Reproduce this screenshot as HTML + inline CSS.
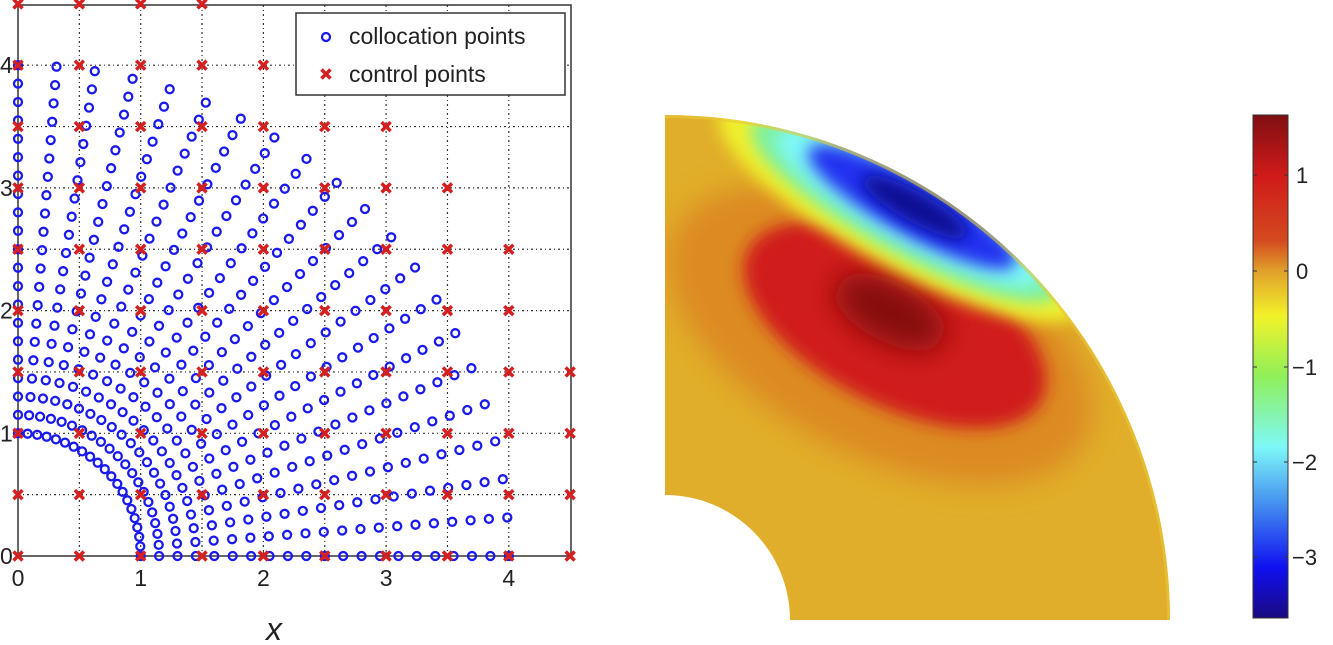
<!DOCTYPE html>
<html><head><meta charset="utf-8"><style>
html,body{margin:0;padding:0;background:#fff;width:1333px;height:645px;overflow:hidden}
svg{position:absolute;left:0;top:0}
text{font-family:"Liberation Sans",sans-serif;fill:#222}
</style></head><body>
<svg id="s" width="1333" height="645" viewBox="0 0 1333 645">
<defs>
<filter id="b1" x="-50%" y="-50%" width="200%" height="200%"><feGaussianBlur stdDeviation="14"/></filter>
<filter id="b2" x="-50%" y="-50%" width="200%" height="200%"><feGaussianBlur stdDeviation="8"/></filter>
<clipPath id="ann"><path d="M665,115 A505,505 0 0 1 1170,620 L790,620 A125,125 0 0 0 665,495 Z"/></clipPath>
<linearGradient id="jet" x1="0" y1="0" x2="0" y2="1">
<stop offset="0" stop-color="#7f0f12"/>
<stop offset="0.12" stop-color="#d01a1a"/>
<stop offset="0.25" stop-color="#d44a1f"/>
<stop offset="0.31" stop-color="#e0a02a"/>
<stop offset="0.40" stop-color="#f2f22a"/>
<stop offset="0.52" stop-color="#8ff05a"/>
<stop offset="0.66" stop-color="#7ef8f8"/>
<stop offset="0.76" stop-color="#4a9cf0"/>
<stop offset="0.90" stop-color="#1010f0"/>
<stop offset="1" stop-color="#1a0a80"/>
</linearGradient>
</defs>
<g id="left"></g>
<g clip-path="url(#ann)">
<rect x="660" y="110" width="520" height="520" fill="#e0ae2a"/>
<ellipse cx="880" cy="335" rx="230" ry="120" transform="rotate(27 880 335)" fill="#dc8a24" filter="url(#b1)"/>
<ellipse cx="895" cy="325" rx="165" ry="80" transform="rotate(27 895 325)" fill="#d01a1a" filter="url(#b2)"/>
<ellipse cx="890" cy="312" rx="60" ry="30" transform="rotate(27 890 312)" fill="#85100f" filter="url(#b1)"/>
<ellipse cx="900" cy="212" rx="205" ry="55" transform="rotate(29 900 212)" fill="#f0f02a" filter="url(#b2)"/>
<ellipse cx="905" cy="210" rx="175" ry="43" transform="rotate(29 905 210)" fill="#7ef0a0" filter="url(#b2)"/>
<ellipse cx="908" cy="208" rx="150" ry="35" transform="rotate(29 908 208)" fill="#7ef8f8" filter="url(#b2)"/>
<ellipse cx="912" cy="207" rx="118" ry="28" transform="rotate(29 912 207)" fill="#2030f0" filter="url(#b2)"/>
<ellipse cx="915" cy="207" rx="60" ry="15" transform="rotate(29 915 207)" fill="#0a0a90" filter="url(#b2)"/>
<path d="M665,115 A505,505 0 0 1 1170,620" fill="none" stroke="#e8c83a" stroke-width="6" opacity="0.6"/>
</g>
<rect x="1253" y="115" width="35" height="503" fill="url(#jet)" stroke="#333" stroke-width="1"/>
<g stroke="#333" stroke-width="1">
<line x1="1253" y1="175" x2="1257" y2="175"/><line x1="1284" y1="175" x2="1288" y2="175"/>
<line x1="1253" y1="271" x2="1257" y2="271"/><line x1="1284" y1="271" x2="1288" y2="271"/>
<line x1="1253" y1="367" x2="1257" y2="367"/><line x1="1284" y1="367" x2="1288" y2="367"/>
<line x1="1253" y1="462" x2="1257" y2="462"/><line x1="1284" y1="462" x2="1288" y2="462"/>
<line x1="1253" y1="557" x2="1257" y2="557"/><line x1="1284" y1="557" x2="1288" y2="557"/>
</g>
<g font-size="22">
<text x="1296" y="183">1</text>
<text x="1296" y="279">0</text>
<text x="1292" y="375">−1</text>
<text x="1292" y="470">−2</text>
<text x="1292" y="565">−3</text>
</g>
</svg>
<script>
var g=document.getElementById('left'),h='';
var ox=18,oy=556,s=122.7;
function X(v){return ox+v*s}function Y(v){return oy-v*s}
for(var k=1;k<=8;k++){var v=k*0.5;
h+='<line x1="'+X(v)+'" y1="5" x2="'+X(v)+'" y2="556" stroke="#333" stroke-width="1.2" stroke-dasharray="2 3 1 3"/>';
h+='<line x1="18" y1="'+Y(v)+'" x2="571" y2="'+Y(v)+'" stroke="#333" stroke-width="1.2" stroke-dasharray="2 3 1 3"/>';}
h+='<rect x="18" y="5" width="553" height="551" fill="none" stroke="#333" stroke-width="1.5"/>';
for(var k=0;k<=4;k++){h+='<line x1="'+X(k)+'" y1="556" x2="'+X(k)+'" y2="550" stroke="#333"/><line x1="18" y1="'+Y(k)+'" x2="24" y2="'+Y(k)+'" stroke="#333"/>';
h+='<text x="'+X(k)+'" y="586" font-size="23" text-anchor="middle">'+k+'</text>';
h+='<text x="0" y="'+(Y(k)+8)+'" font-size="23">'+k+'</text>';}
for(var i=0;i<=20;i++)for(var j=0;j<=20;j++){var r=1+3*i/20,t=Math.PI/2*j/20;
h+='<circle cx="'+X(r*Math.cos(t)).toFixed(1)+'" cy="'+Y(r*Math.sin(t)).toFixed(1)+'" r="4" fill="none" stroke="#1a1aee" stroke-width="2.3"/>';}
var lim={0:4.5,0.5:4.5,1:4.5,1.5:4.5,2:4,2.5:4,3:3.5,3.5:3,4:2,4.5:1.5};
function cross(x,y){return '<path d="M'+(x-4.5)+','+(y-4.5)+'L'+(x+4.5)+','+(y+4.5)+'M'+(x-4.5)+','+(y+4.5)+'L'+(x+4.5)+','+(y-4.5)+'" stroke="#d42020" stroke-width="3.5"/>';}
for(var yy in lim){for(var xx=0;xx<=lim[yy]+1e-9;xx+=0.5)h+=cross(X(xx),Y(+yy));}
h+='<rect x="296" y="13" width="269" height="82" fill="#fff" stroke="#333" stroke-width="1.5"/>';
h+='<circle cx="326" cy="37" r="4" fill="none" stroke="#1a1aee" stroke-width="2.3"/>'+cross(326,74);
h+='<text x="349" y="44" font-size="23">collocation points</text><text x="349" y="82" font-size="23">control points</text>';
h+='<text x="266" y="640" font-size="32" font-style="italic" font-family="Liberation Serif,serif">x</text>';
g.innerHTML=h;
</script>
</body></html>
